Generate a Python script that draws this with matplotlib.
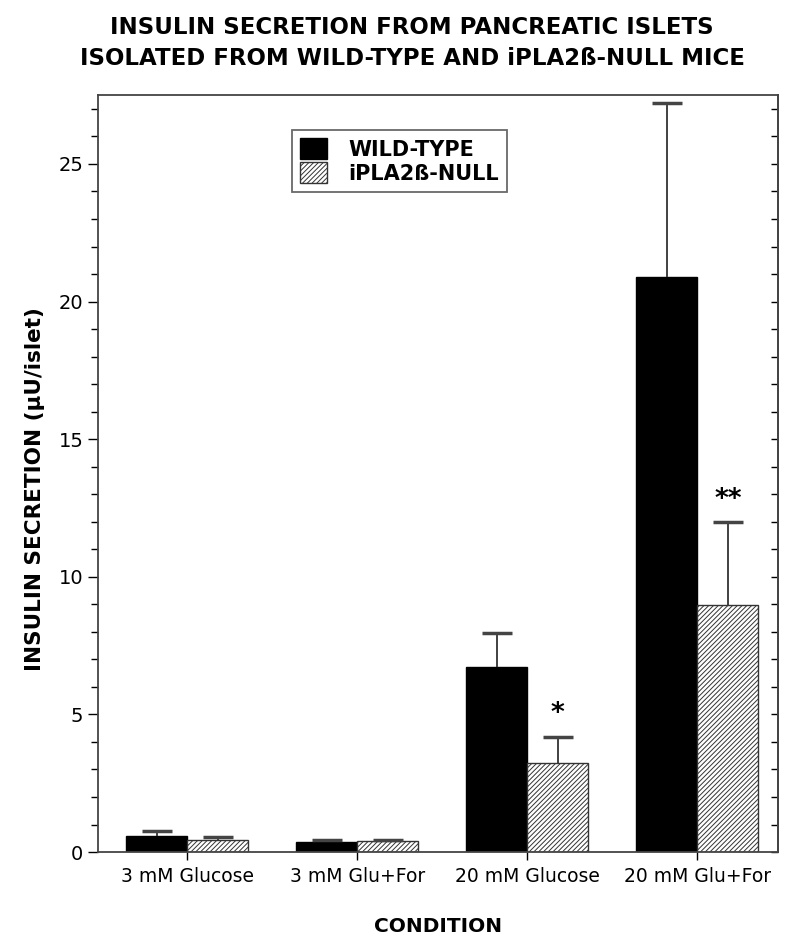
import numpy as np
import matplotlib.pyplot as plt
from matplotlib.ticker import MultipleLocator

plt.rcParams['hatch.linewidth'] = 0.7

conditions = ['3 mM Glucose', '3 mM Glu+For', '20 mM Glucose', '20 mM Glu+For']
wild_type = [0.58, 0.37, 6.72, 20.9]
wild_type_err = [0.17, 0.06, 1.24, 6.3]
null_mice = [0.43, 0.39, 3.25, 8.96]
null_err = [0.10, 0.03, 0.93, 3.02]
stars = ['', '', '*', '**']

fig = plt.figure(figsize=(8, 9.42), dpi=100)
ax = fig.add_axes([0.1225, 0.0955, 0.8500, 0.8035])

x = np.arange(len(conditions))
w = 0.36
cap = 0.088

ax.bar(x - w / 2, wild_type, w, color='black', edgecolor='black', linewidth=1,
       label='WILD-TYPE', zorder=2)
ax.bar(x + w / 2, null_mice, w, color='white', edgecolor='#333333', linewidth=1,
       hatch='///////', label='iPLA2ß-NULL', zorder=2)

# only the upper half of each error bar is shown
for xs, vals, errs in [(x - w / 2, wild_type, wild_type_err), (x + w / 2, null_mice, null_err)]:
    tops = np.array(vals) + np.array(errs)
    ax.vlines(xs, vals, tops, color='#333333', linewidth=1.3, zorder=3)
    ax.hlines(tops, xs - cap, xs + cap, color='#444444', linewidth=2.5, zorder=3)

for i, s in enumerate(stars):
    if s:
        ax.text(x[i] + w / 2, null_mice[i] + null_err[i] + 0.35, s, ha='center',
                va='bottom', fontsize=19, fontweight='bold')

ax.set_xlim(-0.525, 3.475)
ax.set_ylim(0, 27.5)
ax.set_xticks(x)
ax.set_xticklabels(conditions, fontsize=13.5)
ax.yaxis.set_major_locator(MultipleLocator(5))
ax.yaxis.set_minor_locator(MultipleLocator(1))
ax.tick_params(axis='y', which='major', direction='out', length=7, labelsize=14, width=1)
ax.tick_params(axis='y', which='minor', direction='out', length=5, width=1)
ax.tick_params(axis='x', direction='out', length=6, width=1, pad=5)

sec = ax.secondary_yaxis('right')
sec.yaxis.set_major_locator(MultipleLocator(5))
sec.yaxis.set_minor_locator(MultipleLocator(1))
sec.tick_params(which='both', direction='in', length=5, labelright=False, width=1)

for sp in ax.spines.values():
    sp.set_color('#444444')
    sp.set_linewidth(1.3)
sec.spines['right'].set_color('#444444')
sec.spines['right'].set_linewidth(1.3)

ax.set_ylabel('INSULIN SECRETION (µU/islet)', fontsize=15.5, fontweight='bold')
ax.yaxis.set_label_coords(-0.078, 0.48)
ax.set_xlabel('CONDITION', fontsize=14.5, fontweight='bold', labelpad=22)

fig.text(0.515, 0.983, 'INSULIN SECRETION FROM PANCREATIC ISLETS\nISOLATED FROM WILD-TYPE AND iPLA2ß-NULL MICE',
         ha='center', va='top', fontsize=16.5, fontweight='bold', linespacing=1.45)

leg = ax.legend(loc='upper left', bbox_to_anchor=(0.27, 0.968),
                prop={'weight': 'bold', 'size': 15}, frameon=True, fancybox=False,
                handlelength=1.3, handleheight=1.2, handletextpad=1.0,
                labelspacing=0.1, borderpad=0.4)
leg.get_frame().set_edgecolor('#444444')
leg.get_frame().set_linewidth(1.3)

fig.savefig('out.png', dpi=100)
